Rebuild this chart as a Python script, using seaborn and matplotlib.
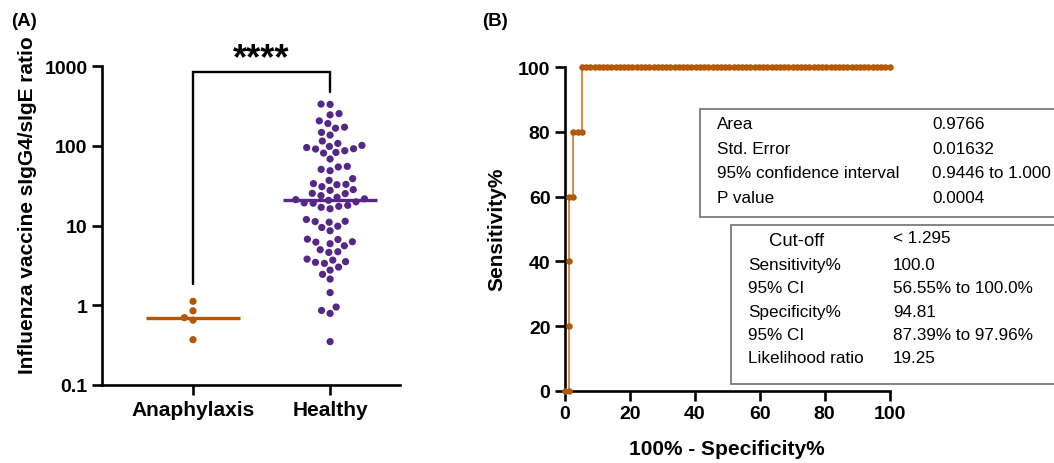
import numpy as np
import pandas as pd
import matplotlib
matplotlib.use("Agg")
import matplotlib.pyplot as plt
import seaborn as sns
from matplotlib.patches import Rectangle
from matplotlib.ticker import FixedLocator, NullLocator

# ---------------- data ----------------
groups = ["Anaphylaxis", "Healthy"]
anaphylaxis = [1.12, 0.85, 0.70, 0.65, 0.37]
healthy = [333, 330, 244, 253, 205, 190, 171, 166, 147, 136, 114.5,
           98, 101, 95, 107, 86.6, 81, 82.5, 91, 91.7, 68.2,
           55.1, 48.7, 50.6, 54.2, 33.5, 36.8, 32.8, 38.7,
           27.6, 30.7, 28.2, 32.5, 23.7, 25.3, 25.1,
           21.6, 21.1, 20.7, 19.8, 22.6, 17.9, 19.2, 16.9, 17.4, 19.0, 16.2,
           11.3, 11.0, 11.2, 11.9, 9.44, 9.80, 8.59,
           6.74, 6.26, 6.18, 6.68, 5.91, 5.57, 4.97, 4.69, 4.60,
           3.68, 3.35, 3.45, 3.52, 3.79, 2.76, 3.01, 2.44, 2.13, 1.44,
           0.95, 0.86, 0.79, 0.35]
y_ticks = [0.1, 1, 10, 100, 1000]
y_tick_labels = ["0.1", "1", "10", "100", "1000"]
roc_ticks = [0, 20, 40, 60, 80, 100]
stars = "****"

box1_labels = ["Area", "Std. Error", "95% confidence interval", "P value"]
box1_values = ["0.9766", "0.01632", "0.9446 to 1.000", "0.0004"]
box2_labels = ["Sensitivity%", "95% CI", "Specificity%", "95% CI", "Likelihood ratio"]
box2_values = ["100.0", "56.55% to 100.0%", "94.81", "87.39% to 97.96%", "19.25"]
cutoff_label = "Cut-off"
cutoff_value = "< 1.295"

ORANGE = "#B35806"
PURPLE = "#542788"
LINE_ORANGE = "#D08C4E"

# ---------------- setup ----------------
sns.set_theme(style="ticks")
plt.rcParams["font.family"] = ["Liberation Sans", "DejaVu Sans"]
plt.rcParams["text.color"] = "black"
plt.rcParams["axes.labelcolor"] = "black"
plt.rcParams["xtick.color"] = "black"
plt.rcParams["ytick.color"] = "black"

W, H = 1054, 464
fig = plt.figure(figsize=(W / 100, H / 100), dpi=100)

def fx(x):
    return x / W

def fy(y):
    return 1 - y / H

axA = fig.add_axes([fx(102), fy(386), (400 - 102) / W, (386 - 67) / H])
axB = fig.add_axes([fx(565), fy(391.7), (889.5 - 565) / W, (391.7 - 68.3) / H])

# ---------------- panel A ----------------
df = pd.DataFrame({
    "group": [groups[0]] * len(anaphylaxis) + [groups[1]] * len(healthy),
    "value": anaphylaxis + healthy,
})
axA.set_yscale("log")
sns.swarmplot(data=df, x="group", y="value", hue="group", order=groups,
              hue_order=groups, palette=[ORANGE, PURPLE], size=6.2,
              linewidth=0, legend=False, ax=axA, zorder=2)
axA.set_ylim(0.1, 1000)
axA.set_xlim(-0.664, 1.51)
axA.yaxis.set_major_locator(FixedLocator(y_ticks))
axA.yaxis.set_minor_locator(NullLocator())
axA.set_yticklabels(y_tick_labels)

# compute swarm at the spacing size, then freeze and set marker size
fig.canvas.draw()
for coll in axA.collections:
    offs = np.array(coll.get_offsets())
    if "draw" in coll.__dict__:
        del coll.draw
    coll.set_offsets(offs)
    coll.set_sizes([27])

for i, (vals, col) in enumerate([(anaphylaxis, ORANGE), (healthy, PURPLE)]):
    axA.hlines(np.median(vals), i - 0.34, i + 0.34, color=col, lw=2.4, zorder=3)

# significance bracket
axA.plot([0, 0, 1, 1], [1.83, 841, 841, 473], color="black", lw=1.7,
         clip_on=False, solid_joinstyle="miter")
axA.text(0.5, 1250, stars, ha="center", va="center", fontsize=26,
         fontweight="bold", clip_on=False)

axA.set_xlabel("")
axA.set_ylabel("")
axA.set_xticks([0, 1])
axA.set_xticklabels(groups, fontsize=15, fontweight="bold")
for lab in axA.get_yticklabels():
    lab.set_fontsize(14)
    lab.set_fontweight("bold")

# ---------------- panel B ----------------
vals = np.array(anaphylaxis + healthy)
is_case = np.array([1] * len(anaphylaxis) + [0] * len(healthy))
order = np.argsort(vals, kind="stable")
sens = np.concatenate([[0], np.cumsum(is_case[order])]) / len(anaphylaxis) * 100
fpr = np.concatenate([[0], np.cumsum(1 - is_case[order])]) / len(healthy) * 100
roc = pd.DataFrame({"fpr": fpr, "sens": sens})

sns.lineplot(data=roc, x="fpr", y="sens", sort=False, estimator=None,
             color=LINE_ORANGE, lw=1.4, ax=axB, zorder=2)
sns.scatterplot(data=roc, x="fpr", y="sens", color=ORANGE, s=22,
                linewidth=0, ax=axB, zorder=3, clip_on=False)
axB.set_xlim(0, 100)
axB.set_ylim(0, 100)
axB.set_xticks(roc_ticks)
axB.set_yticks(roc_ticks)
axB.set_xlabel("")
axB.set_ylabel("")
for lab in axB.get_xticklabels() + axB.get_yticklabels():
    lab.set_fontsize(14)
    lab.set_fontweight("bold")

# ---------------- common axis styling ----------------
for ax in (axA, axB):
    sns.despine(ax=ax)
    for s in ("left", "bottom"):
        ax.spines[s].set_linewidth(1.9)
        ax.spines[s].set_color("black")
    ax.tick_params(axis="both", which="major", length=7.5, width=1.9,
                   color="black", pad=3, labelcolor="black")
    ax.set_facecolor("white")

# ---------------- labels ----------------
fig.text(fx(24), fy(21), "(A)", ha="center", va="center", fontsize=13.5, fontweight="bold")
fig.text(fx(495), fy(21), "(B)", ha="center", va="center", fontsize=13.5, fontweight="bold")
fig.text(fx(28), fy(205), "Influenza vaccine sIgG4/sIgE ratio", rotation=90,
         ha="center", va="center", fontsize=15, fontweight="bold")
fig.text(fx(497), fy(229), "Sensitivity%", rotation=90,
         ha="center", va="center", fontsize=15, fontweight="bold")
fig.text(fx(727), fy(450), "100% - Specificity%",
         ha="center", va="center", fontsize=15, fontweight="bold")

# ---------------- result boxes ----------------
box_kw = dict(transform=fig.transFigure, facecolor="white", edgecolor="#7a7a7a",
              lw=1.3, zorder=5)
fig.patches.append(Rectangle((fx(700), fy(218)), fx(1070) - fx(700), fy(110) - fy(218), **box_kw))
fig.patches.append(Rectangle((fx(731), fy(385)), fx(1070) - fx(731), fy(226) - fy(385), **box_kw))

for i, (lab, val) in enumerate(zip(box1_labels, box1_values)):
    yy = 125 + 24.5 * i
    fig.text(fx(717), fy(yy), lab, ha="left", va="center", fontsize=12.3, zorder=6)
    fig.text(fx(932), fy(yy), val, ha="left", va="center", fontsize=12.3, zorder=6)

fig.text(fx(797), fy(242), cutoff_label, ha="center", va="center", fontsize=13.3, zorder=6)
fig.text(fx(893), fy(239), cutoff_value, ha="left", va="center", fontsize=12.3, zorder=6)
for i, (lab, val) in enumerate(zip(box2_labels, box2_values)):
    yy = 265.5 + 23.3 * i
    fig.text(fx(748), fy(yy), lab, ha="left", va="center", fontsize=12.3, zorder=6)
    fig.text(fx(893), fy(yy), val, ha="left", va="center", fontsize=12.3, zorder=6)

fig.savefig("out.png", dpi=100, facecolor="white")
